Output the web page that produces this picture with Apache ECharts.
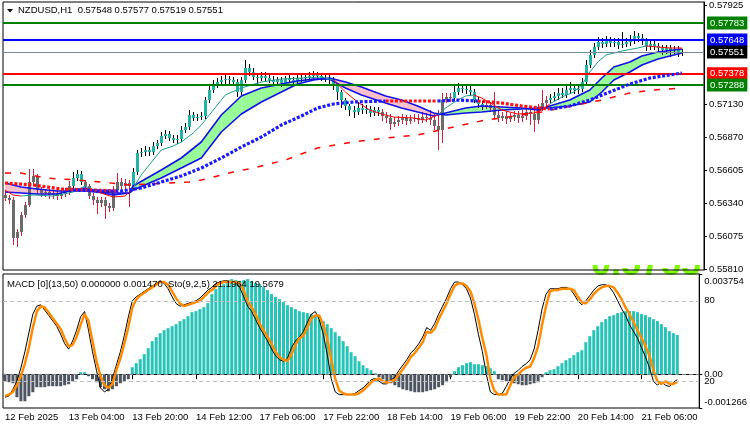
<!DOCTYPE html>
<html>
<head>
<meta charset="utf-8">
<title>NZDUSD,H1</title>
<script src="https://cdn.jsdelivr.net/npm/echarts@6/dist/echarts.min.js"></script>
<style>
  html, body { margin: 0; padding: 0; background: #fff; }
  #chart { width: 750px; height: 430px; }
</style>
</head>
<body>
<div id="chart"></div>
<script>
  // time axis: one label every 16 hourly bars
  const timeLabels = ['12 Feb 2025', '13 Feb 04:00', '13 Feb 20:00', '14 Feb 12:00', '17 Feb 06:00', '17 Feb 22:00',
    '18 Feb 14:00', '19 Feb 06:00', '19 Feb 22:00', '20 Feb 14:00', '21 Feb 06:00'];
  const labelStep = 16;
  const slotCount = 175;

  const open = [
    0.56407, 0.56383, 0.56367, 0.56063, 0.56111, 0.56247, 0.56327, 0.56511, 0.56559, 0.56447,
    0.56423, 0.56431, 0.56407, 0.56423, 0.56399, 0.56415, 0.56431, 0.56479, 0.56543, 0.56575,
    0.56511, 0.56479, 0.56399, 0.56367, 0.56343, 0.56367, 0.56319, 0.56303, 0.56447, 0.56511,
    0.56479, 0.56503, 0.56479, 0.56591, 0.56743, 0.56751, 0.56767, 0.56751, 0.56799, 0.56823,
    0.56879, 0.56895, 0.56863, 0.56847, 0.56855, 0.56927, 0.56951, 0.57047, 0.57023, 0.57031,
    0.57039, 0.57167, 0.57247, 0.57295, 0.57311, 0.57327, 0.57335, 0.57327, 0.57311, 0.57231,
    0.57327, 0.57423, 0.57391, 0.57351, 0.57343, 0.57359, 0.57343, 0.57327, 0.57311, 0.57327,
    0.57303, 0.57335, 0.57327, 0.57319, 0.57343, 0.57343, 0.57351, 0.57359, 0.57367, 0.57359,
    0.57343, 0.57343, 0.57327, 0.57287, 0.57231, 0.57167, 0.57119, 0.57087, 0.57071, 0.57103,
    0.57087, 0.57095, 0.57063, 0.57087, 0.57071, 0.57039, 0.57023, 0.56975, 0.56991, 0.57007,
    0.57023, 0.56999, 0.57015, 0.57023, 0.57007, 0.57031, 0.57023, 0.57007, 0.56959, 0.56927,
    0.57167, 0.57191, 0.57183, 0.57231, 0.57263, 0.57255, 0.57247, 0.57231, 0.57167, 0.57135,
    0.57119, 0.57127, 0.57103, 0.57047, 0.57023, 0.57039, 0.57015, 0.57031, 0.57047, 0.57023,
    0.57039, 0.57071, 0.57055, 0.57007, 0.57103, 0.57143, 0.57167, 0.57183, 0.57199, 0.57223,
    0.57207, 0.57247, 0.57263, 0.57247, 0.57255, 0.57311, 0.57447, 0.57527, 0.57591, 0.57631,
    0.57615, 0.57639, 0.57623, 0.57631, 0.57607, 0.57615, 0.57631, 0.57647, 0.57679, 0.57663,
    0.57639, 0.57591, 0.57615, 0.57599, 0.57583, 0.57567, 0.57583, 0.57567, 0.57575, 0.57548
  ];
  const close = [
    0.56383, 0.56367, 0.56063, 0.56111, 0.56247, 0.56327, 0.56511, 0.56559, 0.56447, 0.56423,
    0.56431, 0.56407, 0.56423, 0.56399, 0.56415, 0.56431, 0.56479, 0.56543, 0.56575, 0.56511,
    0.56479, 0.56399, 0.56367, 0.56343, 0.56367, 0.56319, 0.56303, 0.56447, 0.56511, 0.56479,
    0.56503, 0.56479, 0.56591, 0.56743, 0.56751, 0.56767, 0.56751, 0.56799, 0.56823, 0.56879,
    0.56895, 0.56863, 0.56847, 0.56855, 0.56927, 0.56951, 0.57047, 0.57023, 0.57031, 0.57039,
    0.57167, 0.57247, 0.57295, 0.57311, 0.57327, 0.57335, 0.57327, 0.57311, 0.57231, 0.57327,
    0.57423, 0.57391, 0.57351, 0.57343, 0.57359, 0.57343, 0.57327, 0.57311, 0.57327, 0.57303,
    0.57335, 0.57327, 0.57319, 0.57343, 0.57343, 0.57351, 0.57359, 0.57367, 0.57359, 0.57343,
    0.57343, 0.57327, 0.57287, 0.57231, 0.57167, 0.57119, 0.57087, 0.57071, 0.57103, 0.57087,
    0.57095, 0.57063, 0.57087, 0.57071, 0.57039, 0.57023, 0.56975, 0.56991, 0.57007, 0.57023,
    0.56999, 0.57015, 0.57023, 0.57007, 0.57031, 0.57023, 0.57007, 0.56959, 0.56927, 0.57167,
    0.57191, 0.57183, 0.57231, 0.57263, 0.57255, 0.57247, 0.57231, 0.57167, 0.57135, 0.57119,
    0.57127, 0.57103, 0.57047, 0.57023, 0.57039, 0.57015, 0.57031, 0.57047, 0.57023, 0.57039,
    0.57071, 0.57055, 0.57007, 0.57103, 0.57143, 0.57167, 0.57183, 0.57199, 0.57223, 0.57207,
    0.57247, 0.57263, 0.57247, 0.57255, 0.57311, 0.57447, 0.57527, 0.57591, 0.57631, 0.57615,
    0.57639, 0.57623, 0.57631, 0.57607, 0.57615, 0.57631, 0.57647, 0.57679, 0.57663, 0.57639,
    0.57591, 0.57615, 0.57599, 0.57583, 0.57567, 0.57583, 0.57567, 0.57575, 0.57548, 0.57551
  ];
  const high = [
    0.56439, 0.56407, 0.56391, 0.56135, 0.56271, 0.56351, 0.56615, 0.56615, 0.56575, 0.56471,
    0.56455, 0.56455, 0.56447, 0.56447, 0.56439, 0.56463, 0.56519, 0.56591, 0.56607, 0.56599,
    0.56527, 0.56495, 0.56423, 0.56391, 0.56391, 0.56391, 0.56343, 0.56479, 0.56583, 0.56543,
    0.56535, 0.56527, 0.56623, 0.56767, 0.56783, 0.56799, 0.56791, 0.56831, 0.56847, 0.56911,
    0.56927, 0.56919, 0.56887, 0.56887, 0.56959, 0.56983, 0.57087, 0.57071, 0.57055, 0.57071,
    0.57191, 0.57279, 0.57327, 0.57343, 0.57359, 0.57367, 0.57359, 0.57351, 0.57335, 0.57351,
    0.57487, 0.57455, 0.57423, 0.57383, 0.57391, 0.57391, 0.57375, 0.57359, 0.57351, 0.57351,
    0.57359, 0.57367, 0.57351, 0.57375, 0.57375, 0.57383, 0.57391, 0.57399, 0.57391, 0.57383,
    0.57375, 0.57367, 0.57351, 0.57303, 0.57247, 0.57183, 0.57135, 0.57119, 0.57151, 0.57135,
    0.57127, 0.57119, 0.57111, 0.57111, 0.57095, 0.57071, 0.57055, 0.57031, 0.57039, 0.57055,
    0.57047, 0.57047, 0.57055, 0.57055, 0.57071, 0.57063, 0.57087, 0.57063, 0.57087, 0.57223,
    0.57223, 0.57223, 0.57287, 0.57303, 0.57295, 0.57295, 0.57287, 0.57255, 0.57191, 0.57159,
    0.57159, 0.57151, 0.57231, 0.57079, 0.57071, 0.57071, 0.57063, 0.57079, 0.57079, 0.57087,
    0.57111, 0.57103, 0.57087, 0.57135, 0.57247, 0.57199, 0.57215, 0.57231, 0.57263, 0.57263,
    0.57295, 0.57311, 0.57295, 0.57287, 0.57343, 0.57487, 0.57567, 0.57623, 0.57671, 0.57663,
    0.57679, 0.57671, 0.57663, 0.57663, 0.57711, 0.57663, 0.57687, 0.57719, 0.57703, 0.57695,
    0.57663, 0.57639, 0.57639, 0.57623, 0.57607, 0.57607, 0.57607, 0.57599, 0.57599, 0.57577
  ];
  const low = [
    0.56359, 0.56335, 0.56007, 0.55991, 0.56079, 0.56223, 0.56311, 0.56487, 0.56415, 0.56391,
    0.56391, 0.56375, 0.56375, 0.56367, 0.56375, 0.56391, 0.56407, 0.56455, 0.56519, 0.56487,
    0.56447, 0.56375, 0.56327, 0.56255, 0.56311, 0.56215, 0.56271, 0.56279, 0.56423, 0.56447,
    0.56455, 0.56311, 0.56455, 0.56567, 0.56711, 0.56719, 0.56719, 0.56727, 0.56775, 0.56799,
    0.56855, 0.56839, 0.56823, 0.56815, 0.56831, 0.56903, 0.56927, 0.56999, 0.56999, 0.57007,
    0.57015, 0.57143, 0.57223, 0.57263, 0.57287, 0.57295, 0.57295, 0.57279, 0.57191, 0.57207,
    0.57303, 0.57359, 0.57327, 0.57287, 0.57319, 0.57311, 0.57303, 0.57279, 0.57287, 0.57271,
    0.57279, 0.57303, 0.57287, 0.57295, 0.57311, 0.57319, 0.57327, 0.57335, 0.57335, 0.57319,
    0.57311, 0.57295, 0.57247, 0.57167, 0.57103, 0.57087, 0.57039, 0.57023, 0.57047, 0.57055,
    0.57055, 0.57031, 0.57039, 0.57039, 0.56999, 0.56983, 0.56927, 0.56951, 0.56959, 0.56975,
    0.56967, 0.56975, 0.56991, 0.56975, 0.56983, 0.56991, 0.56967, 0.56927, 0.56767, 0.56823,
    0.57143, 0.57151, 0.57159, 0.57207, 0.57223, 0.57215, 0.57199, 0.57143, 0.57103, 0.57087,
    0.57095, 0.57071, 0.57015, 0.56991, 0.56999, 0.56975, 0.56991, 0.56999, 0.56983, 0.56991,
    0.57007, 0.56967, 0.56911, 0.56975, 0.57079, 0.57119, 0.57143, 0.57159, 0.57167, 0.57183,
    0.57183, 0.57215, 0.57215, 0.57215, 0.57231, 0.57287, 0.57423, 0.57503, 0.57567, 0.57583,
    0.57591, 0.57591, 0.57591, 0.57575, 0.57583, 0.57591, 0.57599, 0.57615, 0.57631, 0.57607,
    0.57559, 0.57567, 0.57567, 0.57543, 0.57527, 0.57535, 0.57511, 0.57535, 0.57511, 0.57519
  ];
  // bar ranges drawn in the "down trend" colours (gray body, crimson wick)
  const downRanges = [[0, 16], [20, 31], [94, 111], [120, 135]];

  // right axis
  const priceTicks = [0.57925, 0.57130, 0.56870, 0.56605, 0.56340, 0.56075, 0.55810];
  const greenLevels = [0.57783, 0.57288];
  const blueLevel = 0.57648;
  const redLevel = 0.57378;
  const lastPrice = 0.57551;

  // thin moving average: teal pieces and red pieces, [bar, price]
  const thinMaTeal = [
    [[4, 0.56399], [7, 0.56407], [12, 0.56399], [17, 0.56431], [20, 0.56479], [22, 0.56447]],
    [[32, 0.56463], [34, 0.56567], [37, 0.56687], [39, 0.56767], [42, 0.56799], [44, 0.56831], [47, 0.56903],
      [49, 0.56967], [52, 0.57087], [55, 0.57207], [59, 0.57263], [64, 0.57311], [69, 0.57335], [74, 0.57343],
      [79, 0.57351], [82, 0.57327]],
    [[108, 0.57047], [110, 0.57103], [113, 0.57167], [115, 0.57199], [117, 0.57207]],
    [[136, 0.57135], [139, 0.57191], [142, 0.57231], [144, 0.57287], [146, 0.57391], [148, 0.57471],
      [150, 0.57527], [154, 0.57559], [158, 0.57583], [160, 0.57599]]
  ];
  const thinMaRed = [
    [[0, 0.56447], [2, 0.56407], [4, 0.56399]],
    [[22, 0.56447], [24, 0.56423], [27, 0.56391], [30, 0.56399], [32, 0.56463]],
    [[82, 0.57327], [85, 0.57231], [88, 0.57151], [91, 0.57087], [94, 0.57055], [97, 0.57031], [102, 0.57023],
      [105, 0.57007], [108, 0.57047]],
    [[117, 0.57207], [119, 0.57183], [122, 0.57127], [124, 0.57087], [128, 0.57055], [132, 0.57063],
      [134, 0.57087], [136, 0.57135]],
    [[160, 0.57599], [163, 0.57591], [166, 0.57583], [169, 0.57583]]
  ];

  // ribbon between a fast and a slow average
  const bandBars = [0, 4, 8, 13, 17, 20, 23, 27, 31, 32, 39, 44, 49, 54, 59, 64, 69, 73, 77, 81,
    85, 89, 95, 99, 103, 107, 110, 115, 119, 124, 129, 133, 136, 141, 146, 149, 152, 156, 159, 163, 169];
  const bandFast = [0.56431, 0.56423, 0.56415, 0.56415, 0.56447, 0.56463, 0.56431, 0.56407, 0.56423, 0.56479,
    0.56607, 0.56703, 0.56831, 0.57047, 0.57199, 0.57263, 0.57295, 0.57319, 0.57335, 0.57335,
    0.57263, 0.57207, 0.57143, 0.57103, 0.57071, 0.57039, 0.57063, 0.57103, 0.57119, 0.57111,
    0.57103, 0.57087, 0.57119, 0.57167, 0.57247, 0.57343, 0.57431, 0.57471, 0.57519, 0.57551, 0.57575];
  const bandSlow = [0.56503, 0.56471, 0.56455, 0.56439, 0.56439, 0.56439, 0.56431, 0.56423, 0.56423, 0.56447,
    0.56543, 0.56623, 0.56703, 0.56911, 0.57055, 0.57151, 0.57231, 0.57295, 0.57327, 0.57343,
    0.57311, 0.57271, 0.57199, 0.57167, 0.57119, 0.57063, 0.57047, 0.57063, 0.57071, 0.57087,
    0.57095, 0.57103, 0.57103, 0.57119, 0.57151, 0.57231, 0.57327, 0.57391, 0.57447, 0.57495, 0.57543];

  // dotted average, blue and red pieces
  const dotsBlue = [
    [[17, 0.56447], [24, 0.56439], [29, 0.56439], [34, 0.56463], [39, 0.56511], [44, 0.56559], [49, 0.56623],
      [54, 0.56703], [59, 0.56791], [64, 0.56871], [69, 0.56967], [74, 0.57039], [78, 0.57103], [82, 0.57135],
      [87, 0.57151], [95, 0.57159]],
    [[108, 0.57159], [113, 0.57167], [118, 0.57159]],
    [[136, 0.57095], [141, 0.57119], [146, 0.57167], [151, 0.57231], [156, 0.57295], [161, 0.57343],
      [166, 0.57367], [169, 0.57383]]
  ];
  const dotsRed = [
    [[0, 0.56503], [7, 0.56487], [14, 0.56455], [22, 0.56447], [28, 0.56439]],
    [[95, 0.57159], [102, 0.57159], [108, 0.57159]],
    [[118, 0.57159], [124, 0.57143], [129, 0.57119], [136, 0.57095]]
  ];

  // slow dashed average
  const slowMa = [[0, 0.56583], [4, 0.56583], [10, 0.56543], [18, 0.56527], [24, 0.56511], [31, 0.56487],
    [41, 0.56503], [46, 0.56511], [49, 0.56527], [57, 0.56591], [62, 0.56623], [70, 0.56687], [78, 0.56783],
    [87, 0.56831], [95, 0.56863], [103, 0.56887], [112, 0.56951], [120, 0.57007], [124, 0.57023],
    [134, 0.57071], [144, 0.57135], [149, 0.57167], [156, 0.57223], [162, 0.57247], [169, 0.57263]];

  const macdHist = [
    -0.000263, -0.0003, -0.000338, -0.000863, -0.001013, -0.001013, -0.000825, -0.000675, -0.000488, -0.000488,
    -0.000488, -0.00045, -0.00045, -0.00045, -0.00045, -0.000413, -0.000375, -0.000263, -0.000188, 0.000075,
    0.000075, -0.000075, -0.000188, -0.0003, -0.000488, -0.000563, -0.000638, -0.000563, -0.00045, -0.000338,
    -0.000263, -0.000188, 0.000263, 0.000413, 0.000563, 0.00075, 0.000975, 0.001238, 0.001388, 0.001538,
    0.00165, 0.001725, 0.0018, 0.001875, 0.001988, 0.002063, 0.002175, 0.002325, 0.002363, 0.002438,
    0.002513, 0.002663, 0.003, 0.003188, 0.0033, 0.003375, 0.00345, 0.003563, 0.003525, 0.003488,
    0.003525, 0.003563, 0.003488, 0.003413, 0.003375, 0.003263, 0.00315, 0.003, 0.002888, 0.002813,
    0.0027, 0.002588, 0.002513, 0.002438, 0.002363, 0.002325, 0.002288, 0.00225, 0.002175, 0.002138,
    0.001988, 0.001875, 0.001725, 0.001575, 0.001425, 0.001238, 0.00105, 0.000825, 0.000675, 0.000488,
    0.000338, 0.000225, 0.00015, 0.000038, -0.000113, -0.000188, -0.000263, -0.000338, -0.000413, -0.000488,
    -0.000563, -0.0006, -0.000638, -0.000675, -0.000675, -0.000675, -0.000638, -0.0006, -0.000563, -0.000488,
    -0.000413, -0.0003, -0.000113, 0.000113, 0.000263, 0.000338, 0.000413, 0.00045, 0.000375, 0.000375,
    0.000338, 0.0003, 0.000225, 0.000113, -0.000188, -0.000225, -0.000263, -0.0003, -0.000338, -0.000375,
    -0.000413, -0.000413, -0.000375, -0.000338, -0.0003, -0.000113, 0.000075, 0.00015, 0.000188, 0.0003,
    0.000413, 0.000525, 0.0006, 0.000713, 0.000825, 0.0009, 0.0012, 0.001425, 0.00165, 0.0018,
    0.00195, 0.002063, 0.002175, 0.002213, 0.002288, 0.002325, 0.002363, 0.002363, 0.002363, 0.002325,
    0.00225, 0.002213, 0.002138, 0.002063, 0.001988, 0.001875, 0.001763, 0.001613, 0.001538, 0.00147
  ];
  const macdTicks = [0.003754, 0, -0.001266];

  const stochMain = [
    8, 9, 14, 20, 30, 42, 56, 70, 76, 77,
    73, 69, 65, 61, 55, 48, 44, 50, 58, 68,
    72, 58, 42, 28, 15, 12, 14, 22, 32, 42,
    54, 68, 80, 83, 85, 87, 89, 91, 93, 95,
    93, 89, 83, 78, 76, 77, 78, 79, 80, 82,
    85, 88, 90, 93, 94, 95, 95, 94, 94, 90,
    83, 76, 72, 66, 60, 55, 50, 44, 39, 36,
    35, 37, 45, 50, 53, 57, 64, 70, 72, 66,
    55, 40, 22, 12, 10, 10, 10, 10, 11, 13,
    15, 18, 21, 22, 20, 18, 18, 21, 23, 28,
    32, 36, 41, 44, 48, 53, 60, 58, 63, 70,
    76, 82, 89, 94, 94, 92, 89, 82, 70, 55,
    42, 25, 12, 10, 10, 11, 16, 22, 26, 28,
    31, 33, 36, 44, 58, 74, 85, 89, 89, 89,
    90, 90, 89, 85, 80, 77, 80, 84, 88, 91,
    92, 92, 90, 86, 80, 74, 69, 62, 57, 52,
    45, 38, 30, 20, 17, 20, 17, 16, 19, 21.1964
  ];
  const stochSignal = [
    9, 10, 12, 17, 24, 33, 45, 60, 72, 76,
    75, 71, 67, 63, 59, 52, 46, 47, 53, 62,
    70, 65, 50, 35, 24, 17, 15, 18, 28, 37,
    48, 60, 75, 81, 84, 86, 88, 90, 92, 94,
    94, 92, 87, 82, 78, 76, 77, 78, 79, 80,
    83, 86, 88, 91, 93, 94, 94, 94, 94, 93,
    88, 80, 75, 70, 63, 58, 53, 48, 42, 38,
    36, 35, 40, 47, 52, 54, 60, 67, 69, 69,
    62, 52, 36, 22, 13, 11, 10, 10, 10, 11,
    13, 16, 19, 21, 22, 20, 19, 20, 21, 25,
    29, 33, 38, 41, 45, 49, 57, 56, 59, 66,
    72, 78, 85, 91, 93, 93, 91, 87, 78, 66,
    52, 40, 22, 13, 10, 10, 10, 17, 23, 25,
    28, 30, 31, 37, 46, 62, 76, 87, 88, 88,
    89, 89, 89, 88, 83, 79, 78, 81, 85, 88,
    90, 91, 91, 90, 86, 81, 75, 70, 64, 58,
    52, 46, 39, 28, 20, 18, 20, 18, 18, 19.5679
  ];
  const stochLevels = [80, 20];

  const FONT = 'Liberation Sans';
  const last = close.length - 1;
  const cats = Array.from({length: slotCount}, (_, i) => String(i));
  const isDown = i => downRanges.some(r => i >= r[0] && i <= r[1]);
  const showLabel = idx => idx % labelStep === 0 && idx / labelStep < timeLabels.length;

  function renderCandle(params, api) {
    const i = api.value(0);
    const o = api.coord([i, api.value(1)]);
    const c = api.coord([i, api.value(2)]);
    const l = api.coord([i, api.value(3)]);
    const h = api.coord([i, api.value(4)]);
    const down = api.value(5) === 1;
    const x = Math.round(o[0]);
    const top = Math.min(o[1], c[1]);
    const bot = Math.max(o[1], c[1]);
    return {
      type: 'group',
      children: [
        {type: 'line', shape: {x1: x + 0.5, y1: h[1], x2: x + 0.5, y2: l[1]},
          style: {stroke: down ? '#d0203c' : '#000', lineWidth: 1}},
        {type: 'rect', shape: {x: x - 1, y: top, width: 3, height: Math.max(bot - top, 1)},
          style: {fill: down ? '#6b6b6b' : '#22b3a4'}}
      ]
    };
  }

  function renderBand(params, api) {
    const a = [api.value(0), api.value(1), api.value(2)];
    const b = [api.value(3), api.value(4), api.value(5)];
    const af = api.coord([a[0], a[1]]), as = api.coord([a[0], a[2]]);
    const bf = api.coord([b[0], b[1]]), bs = api.coord([b[0], b[2]]);
    const d0 = a[1] - a[2], d1 = b[1] - b[2];
    const col = up => up ? '#98fb98' : '#ffc0cb';
    let pieces;
    if (d0 * d1 < 0) {
      const t = d0 / (d0 - d1);
      const m = [af[0] + t * (bf[0] - af[0]), af[1] + t * (bf[1] - af[1])];
      pieces = [[[af, m, as], d0 > 0], [[m, bf, bs], d1 > 0]];
    } else {
      pieces = [[[af, bf, bs, as], d0 + d1 > 0]];
    }
    return {
      type: 'group',
      children: pieces.map(p => ({type: 'polygon', shape: {points: p[0]}, style: {fill: col(p[1])}}))
    };
  }

  function pieceSeries(pieces, color, width, type, z) {
    return pieces.map(data => ({
      type: 'line', xAxisIndex: 0, yAxisIndex: 0, data, symbol: 'none', z,
      lineStyle: {color, width, type, cap: 'butt'}, silent: true
    }));
  }

  const bandData = bandBars.slice(0, -1).map((b, k) =>
    [b, bandFast[k], bandSlow[k], bandBars[k + 1], bandFast[k + 1], bandSlow[k + 1]]);

  const levelLine = (value, color, width, labelBg) => ({
    yAxis: value,
    lineStyle: {color, width, type: 'solid'},
    label: {
      show: true, position: 'end', distance: 3, formatter: value.toFixed(5),
      backgroundColor: labelBg, color: '#fff',
      padding: [2, 3, 1, 3], fontFamily: FONT, fontSize: 9.5
    }
  });

  const chart = echarts.init(document.getElementById('chart'));
  chart.setOption({
    animation: false,
    backgroundColor: '#fff',
    grid: [
      {left: 3, right: 46, top: 2, height: 268, show: true, borderColor: '#000', borderWidth: 1, z: 3},
      {left: 3, right: 46, top: 274, height: 134, show: true, borderColor: '#000', borderWidth: 1, z: 3}
    ],
    xAxis: [
      {type: 'category', gridIndex: 0, data: cats, axisLine: {show: false}, axisTick: {show: false},
        axisLabel: {show: false}, splitLine: {show: false}},
      {type: 'category', gridIndex: 1, data: cats,
        axisLine: {lineStyle: {color: '#000'}},
        axisTick: {show: true, alignWithLabel: true, interval: (idx) => showLabel(idx),
          length: 5, lineStyle: {color: '#000'}},
        axisLabel: {interval: (idx) => showLabel(idx), formatter: (v, idx) => timeLabels[idx / labelStep],
          align: 'left', margin: 4, color: '#000', fontFamily: FONT, fontSize: 9.5},
        splitLine: {show: false}}
    ],
    yAxis: [
      {type: 'value', gridIndex: 0, position: 'right', min: 0.55807, max: 0.57951,
        axisLine: {show: true, lineStyle: {color: '#000'}},
        axisTick: {show: true, length: 3, customValues: priceTicks, lineStyle: {color: '#000'}},
        axisLabel: {customValues: priceTicks, formatter: v => v.toFixed(5), margin: 5,
          color: '#000', fontFamily: FONT, fontSize: 9.5},
        splitLine: {show: false}},
      {type: 'value', gridIndex: 1, position: 'right', min: -0.001266, max: 0.003754,
        axisLine: {show: true, lineStyle: {color: '#000'}},
        axisTick: {show: true, length: 3, customValues: macdTicks, lineStyle: {color: '#000'}},
        axisLabel: {customValues: macdTicks, margin: 5, color: '#000', fontFamily: FONT, fontSize: 9.5,
          formatter: v => v > 0 ? '{t|' + v.toFixed(6) + '}' : (v < 0 ? '{b|' + v.toFixed(6) + '}' : '0.00'),
          rich: {
            t: {padding: [15, 0, 0, 0], fontFamily: FONT, fontSize: 9.5, color: '#000'},
            b: {padding: [0, 0, 12, 0], fontFamily: FONT, fontSize: 9.5, color: '#000'}
          }},
        splitLine: {show: false}},
      {type: 'value', gridIndex: 1, position: 'right', min: 0, max: 100,
        axisLine: {show: false}, axisTick: {show: false},
        axisLabel: {customValues: stochLevels, margin: 5, color: '#000', fontFamily: FONT, fontSize: 9.5},
        splitLine: {show: false}}
    ],
    graphic: [
      // big bid label of the sub window, only its lower edge shows under the price pane
      {type: 'text', z: 1, style: {x: 591, y: 283, text: lastPrice.toFixed(4), verticalAlign: 'bottom',
        fontFamily: FONT, fontSize: 36, fontWeight: 'bold', fill: '#7cfc00'}},
      {type: 'rect', z: 2, shape: {x: 585, y: 200, width: 118, height: 65}, style: {fill: '#fff'}},
      {type: 'polygon', z: 100, shape: {points: [[7, 9], [13, 9], [10, 12.5]]}, style: {fill: '#000'}},
      {type: 'text', z: 100, left: 18, top: 5, style: {
        text: 'NZDUSD,H1  ' + [open[last], high[last], low[last], close[last]].map(v => v.toFixed(5)).join(' '),
        fontFamily: FONT, fontSize: 9.5, fill: '#000'}},
      {type: 'text', z: 100, left: 7, top: 279, style: {
        text: 'MACD [0](13,50) 0.000000 ' + macdHist[last].toFixed(6) + '  Sto(9,2,5) ' +
          stochMain[last].toFixed(4) + ' ' + stochSignal[last].toFixed(4),
        fontFamily: FONT, fontSize: 9.5, fill: '#000'}}
    ],
    series: [
      {type: 'custom', name: 'ribbon', xAxisIndex: 0, yAxisIndex: 0, renderItem: renderBand, data: bandData,
        encode: {x: [0, 3], y: [1, 2, 4, 5]}, z: 1, silent: true},
      {type: 'custom', name: 'NZDUSD', xAxisIndex: 0, yAxisIndex: 0, renderItem: renderCandle,
        data: close.map((c, i) => [i, open[i], c, low[i], high[i], isDown(i) ? 1 : 0]),
        encode: {x: 0, y: [1, 2, 3, 4]}, z: 2, silent: true},
      {type: 'line', xAxisIndex: 0, yAxisIndex: 0, data: bandBars.map((b, k) => [b, bandFast[k]]),
        symbol: 'none', z: 3, lineStyle: {color: '#1010e8', width: 1.6}, silent: true},
      {type: 'line', xAxisIndex: 0, yAxisIndex: 0, data: bandBars.map((b, k) => [b, bandSlow[k]]),
        symbol: 'none', z: 3, lineStyle: {color: '#1010e8', width: 1.6}, silent: true},
      ...pieceSeries(thinMaTeal, '#1a9e8e', 1, 'solid', 4),
      ...pieceSeries(thinMaRed, '#ff0000', 1, 'solid', 4),
      {type: 'line', xAxisIndex: 0, yAxisIndex: 0, data: slowMa, symbol: 'none', z: 4,
        lineStyle: {color: '#ff0000', width: 1.5, type: [6, 9]}, silent: true},
      ...pieceSeries(dotsRed, '#ff1010', 3.2, [3, 1.7], 5),
      ...pieceSeries(dotsBlue, '#1a1aff', 3.2, [3, 1.7], 5),
      // carrier for the horizontal price levels (the series line itself is invisible)
      {type: 'line', xAxisIndex: 0, yAxisIndex: 0, data: [[0, lastPrice], [last, lastPrice]], symbol: 'none',
        lineStyle: {opacity: 0}, z: 6, silent: true,
        markLine: {
          symbol: ['none', 'none'], silent: true, animation: false, precision: 5,
          data: [
            levelLine(greenLevels[0], '#008000', 2, '#008000'),
            levelLine(blueLevel, '#0000ff', 2, '#0000ff'),
            levelLine(lastPrice, '#778899', 1, '#000'),
            levelLine(redLevel, '#ff0000', 2, '#ff0000'),
            levelLine(greenLevels[1], '#008000', 2, '#008000')
          ]
        }},
      {type: 'bar', name: 'MACD', xAxisIndex: 1, yAxisIndex: 1, data: macdHist, barWidth: 3, z: 2,
        itemStyle: {color: p => p.value >= 0 ? '#27c3b6' : '#4c5560'}, silent: true,
        markLine: {symbol: ['none', 'none'], silent: true, label: {show: false},
          data: [{yAxis: 0}], lineStyle: {color: '#808080', type: [4, 3], width: 1}}},
      {type: 'line', name: 'Sto main', xAxisIndex: 1, yAxisIndex: 2, data: stochMain, symbol: 'none', z: 3,
        lineStyle: {color: '#000', width: 1}, silent: true,
        markLine: {symbol: ['none', 'none'], silent: true, label: {show: false},
          data: stochLevels.map(v => ({yAxis: v})), lineStyle: {color: '#c0c0c0', type: [4, 3], width: 1}}},
      {type: 'line', name: 'Sto signal', xAxisIndex: 1, yAxisIndex: 2, data: stochSignal, symbol: 'none', z: 4,
        lineStyle: {color: '#ff8c00', width: 2.5}, silent: true}
    ]
  });
</script>
</body>
</html>
